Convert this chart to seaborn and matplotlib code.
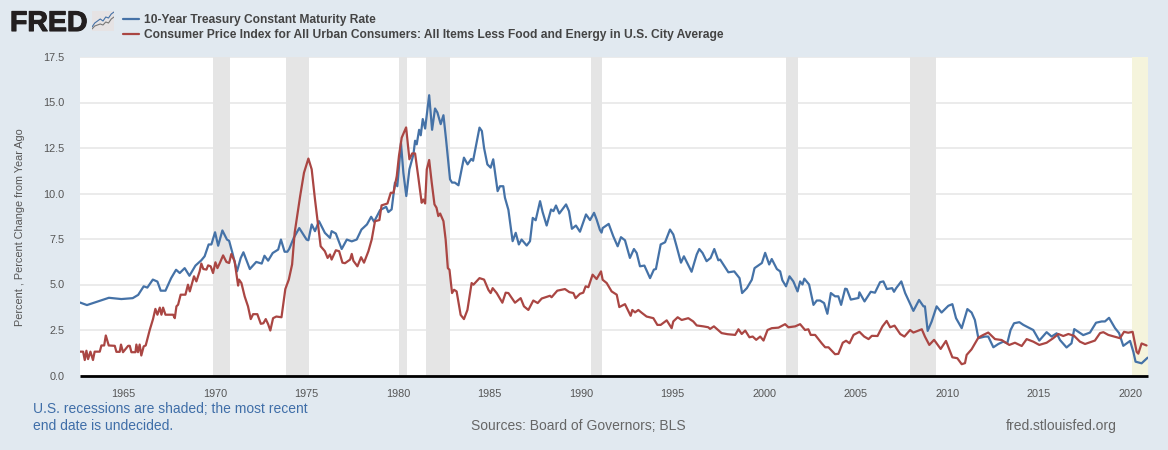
import matplotlib
matplotlib.use("Agg")
import matplotlib.pyplot as plt
import matplotlib.patheffects as pe
import seaborn as sns

# ── Values (decimal year, percent) ───────────────────────────────────────────
gs10_years = [
    1962.62, 1963.0, 1963.6, 1964.2, 1964.88, 1965.5, 1965.8, 1966.1, 1966.3, 1966.6, 1966.85, 1967.03, 1967.29,
    1967.6, 1967.87, 1968.07, 1968.34, 1968.6, 1968.93, 1969.25, 1969.43, 1969.65, 1969.8, 1970.0, 1970.17,
    1970.4, 1970.65, 1970.77, 1970.95, 1971.2, 1971.4, 1971.55, 1971.9, 1972.25, 1972.55, 1972.7, 1972.9,
    1973.15, 1973.45, 1973.6, 1973.8, 1973.95, 1974.05, 1974.3, 1974.6, 1975.0, 1975.1, 1975.28, 1975.46,
    1975.68, 1976.0, 1976.28, 1976.37, 1976.6, 1976.92, 1977.2, 1977.47, 1977.74, 1978.0, 1978.3, 1978.53,
    1978.69, 1979.02, 1979.35, 1979.47, 1979.65, 1979.83, 1979.96, 1980.16, 1980.29, 1980.45, 1980.62, 1980.84,
    1980.93, 1981.02, 1981.15, 1981.24, 1981.35, 1981.48, 1981.7, 1981.86, 1982.02, 1982.15, 1982.33, 1982.48,
    1982.62, 1982.84, 1982.95, 1983.1, 1983.3, 1983.6, 1983.8, 1984.0, 1984.1, 1984.45, 1984.58, 1984.7, 1984.88,
    1985.06, 1985.2, 1985.44, 1985.57, 1985.75, 1985.84, 1986.03, 1986.26, 1986.43, 1986.6, 1986.75, 1987.03,
    1987.21, 1987.36, 1987.52, 1987.76, 1987.9, 1988.12, 1988.36, 1988.49, 1988.63, 1988.81, 1989.18, 1989.34,
    1989.5, 1989.72, 1989.94, 1990.27, 1990.49, 1990.71, 1990.85, 1991.03, 1991.12, 1991.18, 1991.51, 1991.76,
    1992.0, 1992.18, 1992.4, 1992.67, 1992.89, 1993.04, 1993.22, 1993.46, 1993.77, 1993.98, 1994.09, 1994.35,
    1994.59, 1994.86, 1995.04, 1995.22, 1995.46, 1995.62, 1996.04, 1996.32, 1996.46, 1996.64, 1996.86, 1997.08,
    1997.28, 1997.5, 1997.6, 1998.05, 1998.37, 1998.66, 1998.8, 1999.06, 1999.33, 1999.48, 1999.88, 2000.06,
    2000.28, 2000.42, 2000.7, 2000.88, 2001.0, 2001.2, 2001.39, 2001.6, 2001.83, 2001.97, 2002.1, 2002.2, 2002.46,
    2002.7, 2002.88, 2003.06, 2003.28, 2003.46, 2003.65, 2003.88, 2004.06, 2004.21, 2004.43, 2004.52, 2004.74,
    2005.16, 2005.21, 2005.49, 2005.83, 2006.06, 2006.34, 2006.52, 2006.71, 2007.0, 2007.1, 2007.22, 2007.5,
    2007.71, 2007.9, 2008.16, 2008.47, 2008.71, 2008.79, 2008.94, 2009.16, 2009.43, 2009.7, 2010.07, 2010.29,
    2010.49, 2010.8, 2011.11, 2011.34, 2011.52, 2011.71, 2012.07, 2012.25, 2012.53, 2012.8, 2013.07, 2013.29,
    2013.47, 2013.66, 2013.95, 2014.17, 2014.71, 2015.04, 2015.44, 2015.71, 2015.99, 2016.17, 2016.53, 2016.8,
    2016.95, 2017.17, 2017.44, 2017.81, 2018.14, 2018.45, 2018.63, 2018.85, 2019.18, 2019.4, 2019.63, 2020.0,
    2020.18, 2020.3, 2020.63, 2020.96,
]
gs10_values = [
    4.01, 3.87, 4.07, 4.27, 4.2, 4.25, 4.43, 4.9, 4.83, 5.27, 5.16, 4.66, 4.66,
    5.35, 5.81, 5.63, 5.9, 5.48, 6.04, 6.33, 6.55, 7.2, 7.2, 7.87, 7.13,
    7.97, 7.47, 7.4, 6.73, 5.72, 6.45, 6.77, 5.85, 6.24, 6.15, 6.58, 6.31,
    6.73, 6.92, 7.47, 6.8, 6.8, 6.95, 7.56, 8.1, 7.47, 7.43, 8.3, 7.93,
    8.48, 7.84, 7.56, 7.93, 7.8, 6.95, 7.47, 7.37, 7.47, 8.02, 8.3, 8.72,
    8.45, 9.09, 9.27, 8.98, 9.13, 10.6, 10.4, 12.76, 11.14, 9.86, 11.33, 12.15,
    12.9, 12.7, 13.5, 13.2, 14.09, 13.57, 15.4, 13.5, 14.67, 14.45, 13.81, 14.3,
    13.0, 10.78, 10.6, 10.6, 10.45, 11.97, 11.6, 11.9, 11.8, 13.62, 13.43, 12.5, 11.6,
    11.42, 11.88, 10.13, 10.4, 10.4, 9.77, 9.1, 7.38, 7.84, 7.2, 7.47, 7.14,
    7.38, 8.66, 8.53, 9.58, 8.98, 8.24, 9.12, 9.03, 9.34, 8.9, 9.4, 9.03,
    8.06, 8.24, 7.9, 8.85, 8.54, 8.94, 8.57, 8.0, 7.85, 8.1, 8.33, 7.65,
    7.1, 7.6, 7.43, 6.46, 6.95, 6.73, 6.0, 6.04, 5.35, 5.82, 5.85, 7.2,
    7.32, 8.02, 7.75, 7.1, 6.2, 6.55, 5.7, 6.65, 6.95, 6.73, 6.28, 6.46,
    6.95, 6.33, 6.37, 5.67, 5.72, 5.35, 4.53, 4.8, 5.26, 5.9, 6.18, 6.74,
    6.1, 6.4, 5.85, 5.72, 5.23, 4.9, 5.45, 5.17, 4.62, 5.17, 5.0, 5.32, 5.0,
    3.88, 4.12, 4.12, 3.98, 3.39, 4.53, 4.35, 4.35, 3.88, 4.77, 4.75, 4.17,
    4.26, 4.57, 4.07, 4.6, 4.55, 5.13, 5.17, 4.75, 4.8, 4.6, 4.8, 5.17,
    4.53, 4.12, 3.55, 4.15, 3.8, 3.8, 2.45, 2.97, 3.8, 3.46, 3.83, 3.92,
    3.15, 2.6, 3.65, 3.46, 3.05, 2.05, 2.14, 2.14, 1.55, 1.73, 1.86, 1.77,
    2.5, 2.87, 2.93, 2.78, 2.5, 1.92, 2.38, 2.14, 2.32, 1.95, 1.54, 1.77,
    2.55, 2.4, 2.22, 2.36, 2.9, 2.97, 2.97, 3.17, 2.6, 2.33, 1.63, 1.9,
    1.3, 0.76, 0.67, 0.98,
]

cpi_years = [
    1962.62, 1962.79, 1962.88, 1962.97, 1963.06, 1963.19, 1963.33, 1963.42, 1963.7, 1963.79, 1963.94, 1964.03,
    1964.19, 1964.52, 1964.61, 1964.79, 1964.86, 1964.97, 1965.25, 1965.34, 1965.43, 1965.65, 1965.7, 1965.79,
    1965.88, 1965.97, 1966.1, 1966.21, 1966.43, 1966.61, 1966.74, 1966.85, 1966.98, 1967.07, 1967.16, 1967.29,
    1967.71, 1967.8, 1967.89, 1967.98, 1968.12, 1968.38, 1968.52, 1968.62, 1968.85, 1968.98, 1969.16, 1969.25,
    1969.36, 1969.53, 1969.62, 1969.76, 1969.89, 1970.02, 1970.13, 1970.26, 1970.44, 1970.62, 1970.77, 1970.89,
    1971.07, 1971.26, 1971.31, 1971.44, 1971.62, 1971.8, 1971.95, 1972.08, 1972.31, 1972.5, 1972.64, 1972.77,
    1972.9, 1973.02, 1973.17, 1973.35, 1973.63, 1973.84, 1974.03, 1974.21, 1974.35, 1974.65, 1974.86, 1975.1,
    1975.28, 1975.46, 1975.77, 1976.0, 1976.15, 1976.28, 1976.37, 1976.6, 1976.78, 1976.96, 1977.1, 1977.38,
    1977.47, 1977.56, 1977.78, 1977.98, 1978.14, 1978.38, 1978.56, 1978.74, 1978.98, 1979.1, 1979.42, 1979.6,
    1979.75, 1979.93, 1980.05, 1980.2, 1980.44, 1980.62, 1980.77, 1980.93, 1981.11, 1981.29, 1981.38, 1981.48,
    1981.57, 1981.7, 1981.84, 1981.99, 1982.1, 1982.2, 1982.3, 1982.48, 1982.6, 1982.72, 1982.81, 1982.95,
    1983.06, 1983.2, 1983.42, 1983.6, 1983.79, 1984.02, 1984.12, 1984.45, 1984.7, 1984.94, 1985.06, 1985.17,
    1985.39, 1985.7, 1985.88, 1986.03, 1986.39, 1986.7, 1986.88, 1987.12, 1987.39, 1987.63, 1987.85, 1988.3,
    1988.39, 1988.7, 1989.12, 1989.36, 1989.58, 1989.7, 1989.94, 1990.12, 1990.25, 1990.4, 1990.63, 1990.85,
    1991.09, 1991.18, 1991.4, 1991.67, 1991.95, 1992.09, 1992.4, 1992.71, 1992.8, 1992.95, 1993.13, 1993.31,
    1993.58, 1993.95, 1994.17, 1994.35, 1994.68, 1994.95, 1995.04, 1995.28, 1995.5, 1995.86, 1996.13, 1996.32,
    1996.68, 1996.95, 1997.05, 1997.26, 1997.68, 1998.0, 1998.42, 1998.6, 1998.78, 1998.97, 1999.2, 1999.38,
    1999.57, 1999.79, 1999.97, 2000.19, 2000.42, 2000.79, 2001.15, 2001.33, 2001.7, 2001.97, 2002.24, 2002.42,
    2002.55, 2002.79, 2003.15, 2003.34, 2003.52, 2003.88, 2004.06, 2004.3, 2004.48, 2004.67, 2004.89, 2005.21,
    2005.47, 2005.71, 2005.89, 2006.2, 2006.47, 2006.7, 2006.89, 2007.13, 2007.44, 2007.67, 2007.98, 2008.16,
    2008.62, 2008.79, 2009.03, 2009.29, 2009.65, 2009.94, 2010.29, 2010.56, 2010.8, 2010.98, 2011.07, 2011.34,
    2011.71, 2011.98, 2012.25, 2012.62, 2012.98, 2013.4, 2013.71, 2014.08, 2014.35, 2014.71, 2015.04, 2015.44,
    2015.8, 2016.08, 2016.35, 2016.63, 2016.94, 2017.26, 2017.54, 2018.08, 2018.36, 2018.54, 2018.81, 2019.45,
    2019.67, 2019.9, 2020.14, 2020.36, 2020.45, 2020.63, 2020.9,
]
cpi_values = [
    1.31, 1.31, 0.85, 1.36, 0.9, 1.31, 0.85, 1.31, 1.31, 1.65, 1.65, 2.2,
    1.65, 1.63, 1.3, 1.3, 1.7, 1.28, 1.63, 1.63, 1.28, 1.28, 1.7, 1.28,
    1.7, 1.1, 1.6, 1.65, 2.5, 3.1, 3.66, 3.34, 3.73, 3.34, 3.73, 3.34,
    3.34, 3.15, 3.8, 3.89, 4.44, 4.44, 4.99, 4.62, 5.45, 5.17, 5.73, 6.15,
    5.85, 5.82, 6.05, 6.0, 5.63, 6.22, 5.9, 6.18, 6.6, 6.24, 6.18, 6.68,
    6.27, 4.94, 5.27, 5.08, 4.34, 3.8, 3.1, 3.37, 3.37, 2.84, 2.87, 3.1,
    2.82, 2.47, 3.15, 3.24, 3.2, 4.75, 5.27, 6.1, 7.84, 9.86, 11.14, 11.92,
    11.33, 9.68, 7.1, 6.83, 6.46, 6.65, 6.37, 6.88, 6.83, 6.2, 6.17, 6.37,
    6.68, 6.3, 6.0, 6.5, 6.2, 6.83, 7.47, 8.48, 8.54, 9.35, 9.45, 10.04,
    10.04, 10.96, 12.07, 13.07, 13.63, 11.88, 12.2, 12.2, 10.87, 9.49, 9.67, 9.45,
    11.33, 11.84, 10.6, 9.4, 9.22, 8.76, 8.9, 8.48, 7.47, 5.9, 5.81, 4.53,
    4.71, 4.62, 3.33, 3.1, 3.6, 5.08, 4.99, 5.35, 5.27, 4.7, 4.53, 4.8,
    4.53, 4.0, 4.55, 4.53, 4.0, 4.25, 3.8, 3.6, 4.12, 3.98, 4.23, 4.38,
    4.3, 4.66, 4.75, 4.58, 4.53, 4.25, 4.49, 4.55, 4.9, 4.85, 5.54, 5.3,
    5.72, 5.26, 5.08, 4.62, 4.44, 3.76, 3.92, 3.28, 3.6, 3.47, 3.6, 3.45,
    3.24, 3.15, 2.78, 2.78, 3.03, 2.6, 2.97, 3.2, 3.05, 3.15, 2.97, 2.75,
    2.7, 2.65, 2.56, 2.7, 2.33, 2.27, 2.23, 2.54, 2.28, 2.47, 2.1, 2.14,
    1.96, 2.14, 1.92, 2.5, 2.6, 2.63, 2.82, 2.65, 2.7, 2.82, 2.5, 2.54,
    2.23, 2.23, 1.77, 1.55, 1.55, 1.17, 1.19, 1.8, 1.91, 1.77, 2.23, 2.4,
    2.14, 2.0, 2.18, 2.17, 2.7, 3.0, 2.65, 2.74, 2.28, 2.14, 2.5, 2.36,
    2.54, 2.14, 1.68, 1.96, 1.46, 1.9, 1.0, 0.95, 0.62, 0.68, 1.13, 1.44,
    2.08, 2.23, 2.36, 2.0, 1.95, 1.68, 1.8, 1.62, 2.0, 1.86, 1.68, 1.8,
    2.05, 2.28, 2.17, 2.28, 2.18, 1.86, 1.73, 1.92, 2.33, 2.38, 2.23, 2.05,
    2.4, 2.35, 2.4, 1.3, 1.2, 1.76, 1.65,
]

recession_starts = [1969.9, 1973.88, 1980.04, 1981.51, 1990.53, 2001.19, 2007.98]
recession_ends = [1970.82, 1975.15, 1980.5, 1982.84, 1991.16, 2001.87, 2009.4]
open_recession_start = 2020.12

year_ticks = [1965, 1970, 1975, 1980, 1985, 1990, 1995, 2000, 2005, 2010, 2015, 2020]
rate_ticks = [0.0, 2.5, 5.0, 7.5, 10.0, 12.5, 15.0, 17.5]

label_gs10 = "10-Year Treasury Constant Maturity Rate"
label_cpi = "Consumer Price Index for All Urban Consumers: All Items Less Food and Energy in U.S. City Average"

# logo sparkline
logo_x = [0, 1, 2, 3, 4, 5, 6, 7, 8]
logo_blue = [2, 4, 5, 6, 5, 7, 6.5, 8.5, 9.5]
logo_grey = [1, 2.5, 3, 3.5, 3, 4.5, 4, 6, 7]

# ── Style ────────────────────────────────────────────────────────────────────
sns.set_theme(style="white")
plt.rcParams["font.family"] = ["Liberation Sans", "DejaVu Sans"]

BG = "#e1e9f0"
BLUE = "#4572a7"
RED = "#aa4643"
W, H = 1168, 450

fig = plt.figure(figsize=(W / 100, H / 100), dpi=100, facecolor=BG)
ax = fig.add_axes([80 / W, 1 - 375.5 / H, (1148 - 80) / W, (375.5 - 57) / H])

for start, end in zip(recession_starts, recession_ends):
    ax.axvspan(start, end, color="#e5e5e5", lw=0, zorder=1)
ax.axvspan(open_recession_start, 2020.98, color="#f5f4dc", lw=0, zorder=1)

sns.lineplot(x=gs10_years, y=gs10_values, color=BLUE, lw=1.6, estimator=None, sort=False,
             label=label_gs10, ax=ax, zorder=3)
sns.lineplot(x=cpi_years, y=cpi_values, color=RED, lw=1.6, estimator=None, sort=False,
             label=label_cpi, ax=ax, zorder=3)

ax.set_xlim(1962.62, 2020.98)
ax.set_ylim(0, 17.5)
ax.set_xticks(year_ticks)
ax.set_yticks(rate_ticks)
ax.set_yticklabels([f"{v:.1f}" for v in rate_ticks])
ax.grid(axis="y", color="#e6e6e6", lw=1.1, zorder=0)
ax.grid(axis="x", visible=False)
ax.set_axisbelow(True)
ax.set_facecolor("white")
for side in ["top", "left", "right"]:
    ax.spines[side].set_visible(False)
ax.spines["bottom"].set_color("black")
ax.spines["bottom"].set_linewidth(2)
ax.spines["bottom"].set_capstyle("butt")
ax.spines["bottom"].set_zorder(5)
ax.tick_params(axis="x", length=7, width=0.8, color="#c4d2e0", labelsize=7.8, labelcolor="#555555", pad=3)
ax.tick_params(axis="y", length=0, labelsize=7.8, labelcolor="#555555", pad=11)

ax.set_xlabel("")
ax.set_ylabel("")
fig.text(20 / W, 1 - 227 / H, "Percent , Percent Change from Year Ago", rotation=90, ha="center", va="center",
         fontsize=7.8, color="#555555")

leg = fig.legend(*ax.get_legend_handles_labels(), loc="upper left", bbox_to_anchor=(123 / W, 1 - 14 / H),
                 frameon=False, labelspacing=0.25, handlelength=1.33, handletextpad=0.4,
                 borderaxespad=0, borderpad=0, prop={"weight": "bold", "size": 8.65})
for txt in leg.get_texts():
    txt.set_color("#444444")
ax.get_legend().remove()

# ── Logo ─────────────────────────────────────────────────────────────────────
fred = fig.text(10 / W, 1 - 31 / H, "FRED", fontsize=20.5, fontweight="bold", color="#231f20", ha="left", va="baseline")
fred.set_path_effects([pe.withStroke(linewidth=0.8, foreground="#231f20")])
logo = fig.add_axes([92 / W, 1 - 31 / H, 22 / W, 20 / H], facecolor="#e6e3e4")
sns.lineplot(x=logo_x, y=logo_blue, color=BLUE, lw=0.8, estimator=None, ax=logo)
sns.lineplot(x=logo_x, y=logo_grey, color="#777777", lw=0.8, estimator=None, ax=logo)
logo.set_xlim(0, 8)
logo.set_ylim(0, 10)
logo.set_xticks([])
logo.set_yticks([])
logo.set_xlabel("")
logo.set_ylabel("")
for spine in logo.spines.values():
    spine.set_visible(False)

# ── Footer ───────────────────────────────────────────────────────────────────
fig.text(33 / W, 1 - 409 / H, "U.S. recessions are shaded; the most recent", fontsize=10, color="#3f6ea8", va="center")
fig.text(33 / W, 1 - 426 / H, "end date is undecided.", fontsize=10, color="#3f6ea8", va="center")
fig.text(578 / W, 1 - 426 / H, "Sources: Board of Governors; BLS", fontsize=10, color="#666666", ha="center", va="center")
fig.text(1117 / W, 1 - 426 / H, "fred.stlouisfed.org", fontsize=10, color="#666666", ha="right", va="center")

fig.savefig("out.png", dpi=100, facecolor=BG)
plt.close()
